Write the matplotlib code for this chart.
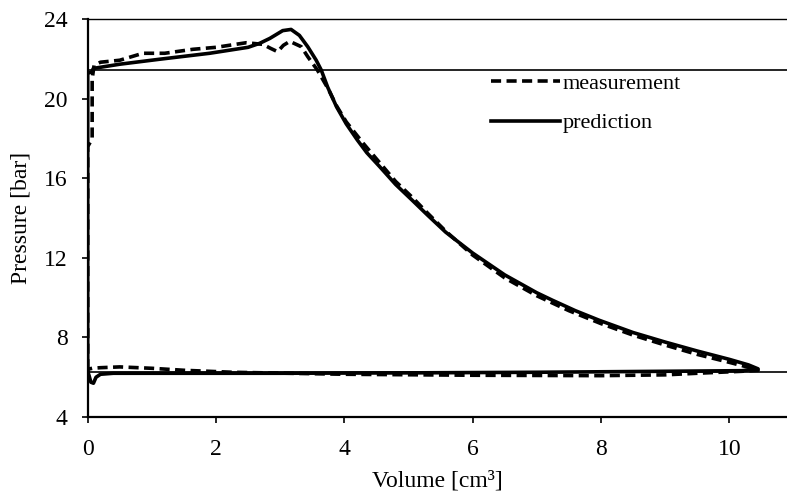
import matplotlib.pyplot as plt

plt.rcParams['font.family'] = ['Liberation Serif', 'DejaVu Serif']
plt.rcParams['font.size'] = 17

# prediction loop (solid)
pred_v = [0.0, 0.0, 0.06, 0.09, 0.5, 1.12, 1.9, 2.5, 2.68, 2.84, 3.04, 3.17, 3.3, 3.43,
          3.56, 3.64, 3.74, 3.88, 4.03, 4.2, 4.35, 4.55, 4.8, 5.06, 5.3, 5.58, 6.0, 6.5,
          7.0, 7.24, 7.6, 7.97, 8.5, 9.0, 9.5, 10.0, 10.3, 10.45, 10.2, 9.0, 7.0, 5.0,
          3.0, 1.0, 0.4, 0.2, 0.13, 0.09, 0.05, 0.02, 0.0]
pred_p = [6.3, 21.3, 21.35, 21.54, 21.75, 22.0, 22.3, 22.6, 22.8, 23.05, 23.44, 23.5, 23.2, 22.63,
          21.96, 21.46, 20.6, 19.6, 18.75, 17.95, 17.3, 16.6, 15.7, 14.9, 14.15, 13.3, 12.25, 11.15,
          10.25, 9.88, 9.35, 8.87, 8.25, 7.77, 7.32, 6.9, 6.62, 6.42, 6.33, 6.3, 6.25, 6.22,
          6.2, 6.2, 6.2, 6.15, 6.0, 5.7, 5.75, 6.1, 6.3]

# measurement loop (dashed)
meas_v = [0.0, 0.0, 0.07, 0.07, 0.1, 0.2, 0.5, 0.86, 1.2, 1.64, 2.0, 2.47, 2.73, 2.85,
          2.96, 3.05, 3.15, 3.33, 3.43, 3.58, 3.75, 3.88, 4.03, 4.3, 4.55, 4.8, 5.06, 5.3,
          5.58, 6.0, 6.5, 7.0, 7.5, 8.0, 8.5, 9.0, 9.5, 10.0, 10.3, 10.45, 10.2, 9.5,
          9.0, 8.0, 6.0, 4.0, 2.26, 1.5, 1.0, 0.5, 0.2, 0.07, 0.0]
meas_p = [6.4, 17.6, 18.0, 21.0, 21.7, 21.85, 21.95, 22.3, 22.3, 22.5, 22.6, 22.83, 22.75, 22.55,
          22.38, 22.7, 22.9, 22.63, 22.13, 21.46, 20.5, 19.65, 18.85, 17.75, 16.8, 15.85, 15.05, 14.25,
          13.35, 12.15, 11.0, 10.1, 9.35, 8.7, 8.12, 7.62, 7.15, 6.75, 6.5, 6.35, 6.3, 6.2,
          6.12, 6.08, 6.1, 6.15, 6.25, 6.35, 6.45, 6.52, 6.48, 6.45, 6.4]

ref_levels = [21.46, 6.25]

fig = plt.figure(figsize=(7.87, 4.96), dpi=100)
ax = fig.add_axes([0.1114, 0.1593, 0.8886, 0.8014])

for lvl in ref_levels:
    ax.axhline(lvl, color='black', lw=1.2, zorder=1)

ax.plot(meas_v, meas_p, color='black', lw=2.6, linestyle=(0, (2.8, 1.5)), label='measurement', zorder=3)
ax.plot(pred_v, pred_p, color='black', lw=2.6, label='prediction', zorder=2)

ax.set_xlim(0, 10.9)
ax.set_ylim(4, 24)
ax.set_xticks([0, 2, 4, 6, 8, 10])
ax.set_yticks([4, 8, 12, 16, 20, 24])
ax.tick_params(direction='out', length=4.5, width=1.2)
ax.tick_params(axis='x', pad=11)
ax.tick_params(axis='y', pad=10)

ax.spines['right'].set_visible(False)
ax.spines['top'].set_linewidth(1.0)
ax.spines['left'].set_linewidth(1.6)
ax.spines['bottom'].set_linewidth(1.6)

ax.set_xlabel('Volume [cm³]', labelpad=8)
ax.set_ylabel('Pressure [bar]', labelpad=9)

ax.legend(loc='upper left', bbox_to_anchor=(0.548, 0.915), frameon=False,
          handlelength=3.1, handletextpad=0.12, labelspacing=0.85, fontsize=16)

plt.savefig('out.png', dpi=100)
